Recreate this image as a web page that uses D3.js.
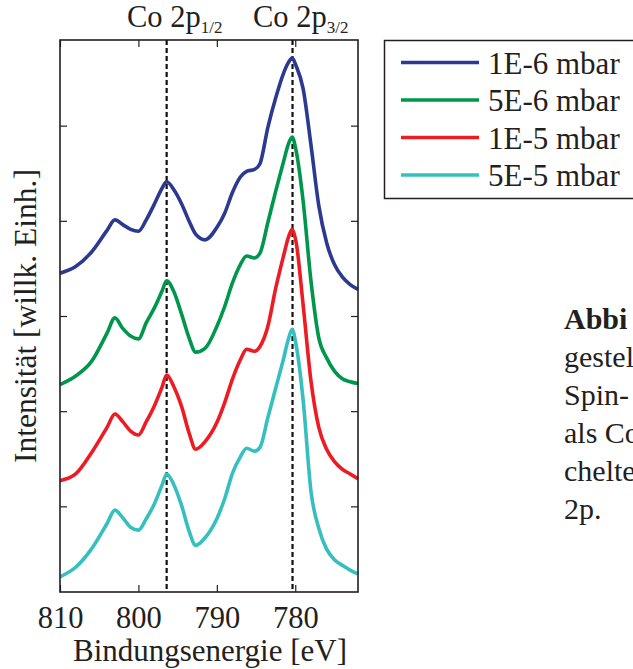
<!DOCTYPE html>
<meta charset="utf-8">
<head>
  <script src="https://cdn.jsdelivr.net/npm/d3@7"></script>
</head>
<style>
  body { margin: 0; background: #fff; }
  text { font-family: "Liberation Serif", "Times New Roman", serif; fill: #231f20; }
</style>
<body></body>
<script>
// binding energy grid (eV), shared by all spectra
var energy = [810, 808, 806, 804, 803, 802, 801, 800, 799, 798, 797, 796.4, 795.5, 794.5,
  793.5, 792.7, 791.5, 790, 789, 788, 787, 786.2, 785.2, 784.5, 783.5, 782.5, 781.5,
  780.9, 780.4, 779.9, 779, 778, 777, 776, 775, 774, 773, 772];

// intensities (arb. units, already stacked with offset)
var int1E6 = [345, 352, 367, 390, 401, 396, 391, 389, 401, 417, 434, 441, 433, 418, 399, 386,
  380, 393, 408, 430, 446, 452, 454, 460, 498, 529, 555, 566, 571, 563, 539, 480, 416, 377,
  354, 341, 333, 328];
var int5E6 = [228, 237, 252, 282, 298, 287, 279, 276, 293, 308, 326, 337, 326, 302, 276, 262,
  266, 289, 310, 335, 354, 363, 361, 366, 398, 431, 462, 480, 488, 474, 421, 337, 277, 256,
  242, 234, 231, 229];
var int1E5 = [127, 134, 156, 183, 197, 189, 179, 175, 189, 205, 225, 238, 226, 205, 176, 160,
  168, 188, 209, 234, 254, 265, 263, 268, 289, 329, 363, 382, 391, 378, 312, 232, 183, 160,
  147, 139, 134, 129];
var int5E5 = [26, 36, 55, 82, 96, 88, 78, 75, 87, 102, 122, 134, 123, 101, 73, 59, 67, 87, 108,
  135, 152, 161, 158, 162, 193, 224, 255, 275, 286, 270, 212, 116, 77, 55, 44, 38, 33, 29];

var seriesNames = ["1E-6 mbar", "5E-6 mbar", "1E-5 mbar", "5E-5 mbar"];
var seriesColors = ["#2b3990", "#00964b", "#ed1c24", "#35c0bf"];
var xTicks = [810, 800, 790, 780];
var yTicks = [100, 200, 300, 400, 500];
var peakPos = [796.4, 780.35];

var width = 633, height = 669;
var m = {left: 60, right: 275, top: 40, bottom: 77};

var svg = d3.select("body").append("svg")
    .attr("width", width)
    .attr("height", height);

var x = d3.scaleLinear().domain([810, 772]).range([m.left, width - m.right]);
var y = d3.scaleLinear().domain([10, 590]).range([height - m.bottom, m.top]);

var series = [int1E6, int5E6, int1E5, int5E5];

var line = d3.line()
    .x(function(d, i) { return x(energy[i]); })
    .y(function(d) { return y(d); })
    .curve(d3.curveMonotoneX);

// dashed peak markers
svg.selectAll(".peak")
    .data(peakPos)
  .enter().append("line")
    .attr("x1", function(d) { return x(d); })
    .attr("x2", function(d) { return x(d); })
    .attr("y1", y.range()[1])
    .attr("y2", y.range()[0])
    .style("stroke", "#111")
    .style("stroke-width", 2.2)
    .style("stroke-dasharray", "5,3");

svg.selectAll(".spec")
    .data(series)
  .enter().append("path")
    .attr("d", line)
    .style("fill", "none")
    .style("stroke", function(d, i) { return seriesColors[i]; })
    .style("stroke-width", 3.6)
    .style("stroke-linejoin", "round");

// axes, matlab-like: ticks inside on all four sides
function tidy(g) {
  g.select(".domain").remove();
  g.selectAll(".tick line").style("stroke", "#231f20").style("stroke-width", 1.2);
}

svg.append("g")
    .attr("transform", "translate(0," + y.range()[0] + ")")
    .call(d3.axisBottom(x).tickValues(xTicks).tickFormat(d3.format("d"))
      .tickSizeInner(-7).tickSizeOuter(0).tickPadding(14))
    .call(tidy)
    .selectAll("text")
    .style("font-family", "'Liberation Serif', serif")
    .style("font-size", "30.5px")
    .style("fill", "#231f20");

svg.append("g")
    .attr("transform", "translate(0," + y.range()[1] + ")")
    .call(d3.axisTop(x).tickValues(xTicks).tickFormat("").tickSizeInner(-7).tickSizeOuter(0))
    .call(tidy);

svg.append("g")
    .attr("transform", "translate(" + x.range()[0] + ",0)")
    .call(d3.axisLeft(y).tickValues(yTicks).tickFormat("").tickSizeInner(-7).tickSizeOuter(0))
    .call(tidy);

svg.append("g")
    .attr("transform", "translate(" + x.range()[1] + ",0)")
    .call(d3.axisRight(y).tickValues(yTicks).tickFormat("").tickSizeInner(-7).tickSizeOuter(0))
    .call(tidy);

svg.append("rect")
    .attr("x", x.range()[0])
    .attr("y", y.range()[1])
    .attr("width", x.range()[1] - x.range()[0])
    .attr("height", y.range()[0] - y.range()[1])
    .style("fill", "none")
    .style("stroke", "#231f20")
    .style("stroke-width", 1.6);

// axis titles
svg.append("text")
    .attr("x", (x.range()[0] + x.range()[1]) / 2 + 1)
    .attr("y", 661)
    .attr("text-anchor", "middle")
    .style("font-size", "31px")
    .text("Bindungsenergie [eV]");

svg.append("text")
    .attr("transform", "translate(36," + (y.range()[0] + y.range()[1]) / 2 + ") rotate(-90)")
    .attr("text-anchor", "middle")
    .style("font-size", "31.5px")
    .text("Intensität [willk. Einh.]");

// peak labels
var peakLabels = [["Co 2p", "1/2", 127], ["Co 2p", "3/2", 253]];
peakLabels.forEach(function(p) {
  var t = svg.append("text")
      .attr("x", p[2])
      .attr("y", 27)
      .style("font-size", "30.5px");
  t.append("tspan").text(p[0]);
  t.append("tspan").attr("dy", 6).style("font-size", "17px").text(p[1]);
});

// legend
var lg = svg.append("g");
lg.append("rect")
    .attr("x", 384.5)
    .attr("y", 40.5)
    .attr("width", 280)
    .attr("height", 158)
    .style("fill", "#fff")
    .style("stroke", "#231f20")
    .style("stroke-width", 1.5);

seriesNames.forEach(function(name, i) {
  var yy = 62.5 + i * 37.5;
  lg.append("line")
      .attr("x1", 401).attr("x2", 479)
      .attr("y1", yy).attr("y2", yy)
      .style("stroke", seriesColors[i])
      .style("stroke-width", 3.6);
  lg.append("text")
      .attr("x", 488)
      .attr("y", yy + 11)
      .style("font-size", "31px")
      .text(name);
});

// caption fragment at the right edge (cut off in the original)
var caption = ["Abbi", "gestel", "Spin-", "als Co", "chelte", "2p."];
caption.forEach(function(s, i) {
  svg.append("text")
      .attr("x", 564)
      .attr("y", 329 + i * 38)
      .style("font-size", "30px")
      .style("font-weight", i === 0 ? "bold" : "normal")
      .text(s);
});
</script>
